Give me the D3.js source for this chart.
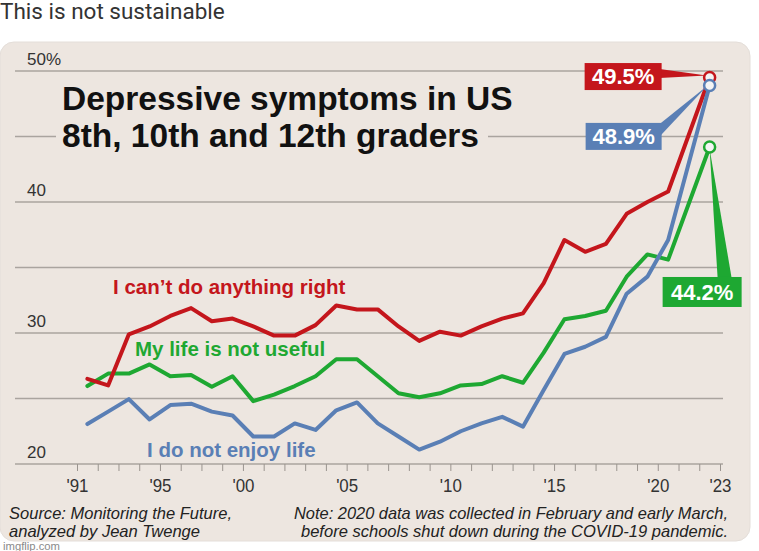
<!DOCTYPE html>
<html><head><meta charset="utf-8">
<script src="https://cdn.jsdelivr.net/npm/d3@7"></script>
<style>
html,body{margin:0;padding:0;background:#fff;}
svg{display:block;}
</style></head><body>
<svg id="c" width="759" height="551"></svg>
<script>
// survey slots (one per plotted point on the original's category axis)
const years = [1991,1992,1993,1994,1995,1996,1997,1998,1999,2000,2001,2002,2003,2004,2005,2006,2007,2008,2009,2010,2011,2012,2013,2014,2015,2016,2017,2018,2019,2021,2023];
const cantDoRight = [26.5,26.0,29.9,30.5,31.3,31.9,30.9,31.1,30.5,29.8,29.8,30.6,32.1,31.8,31.8,30.5,29.4,30.1,29.8,30.5,31.1,31.5,33.8,37.1,36.2,36.8,39.1,40.0,40.8,null,49.5];
const lifeNotUseful = [25.95,26.9,26.9,27.6,26.7,26.8,25.9,26.7,24.8,25.3,25.95,26.7,28.0,28.0,26.7,25.4,25.1,25.4,26.0,26.1,26.7,26.2,28.5,31.05,31.3,31.7,34.3,36.0,35.6,null,44.2];
const notEnjoyLife = [23.05,24.0,24.95,23.4,24.5,24.6,24.0,23.7,22.1,22.1,23.1,22.6,24.1,24.7,23.1,22.1,21.1,21.7,22.5,23.1,23.6,22.85,25.65,28.4,28.95,29.7,33.0,34.3,37.1,null,48.9];
const seriesNames = ["I can\u2019t do anything right","My life is not useful","I do not enjoy life"];
const endLabels = ["49.5%","44.2%","48.9%"];
const yTicks = [20,25,30,35,40,45,50];
const yTickLabels = ["20","","30","","40","","50%"];
const xTickLabels = ["'91","'95","'00","'05","'10","'15","'20","'23"];
const xTickSlots = [0,4,8,13,18,23,28,31];
const titleLines = ["Depressive symptoms in US","8th, 10th and 12th graders"];
const sourceLines = ["Source: Monitoring the Future,","analyzed by Jean Twenge"];
const noteLines = ["Note: 2020 data was collected in February and early March,","before schools shut down during the COVID-19 pandemic."];

const RED="#c4161c", GREEN="#1ea832", BLUE="#5a7fb5", CARD="#ede6e0";
const svg = d3.select("#c");
const sans = "'Liberation Sans',Arial,Helvetica,sans-serif";

// post text
svg.append("text").attr("x",0).attr("y",19).attr("font-family","Roboto,'Noto Sans',sans-serif")
  .attr("font-size",22.5).attr("fill","#333").text("This is not sustainable");

// card
svg.append("rect").attr("x",0).attr("y",42).attr("width",750).attr("height",499).attr("rx",14)
  .attr("fill",CARD).attr("stroke","#e4ded9");

const x = d3.scaleLinear().domain([0, years.length]).range([77, 720]);
const y = d3.scaleLinear().domain([20, 50]).range([464, 71]);

// gridlines
svg.append("g").selectAll("line").data(yTicks).join("line")
  .attr("x1",15).attr("x2",723).attr("y1",d=>y(d)).attr("y2",d=>y(d))
  .attr("stroke","#aaa49f").attr("stroke-width",1.3);
svg.append("g").selectAll("text").data(yTicks).join("text")
  .attr("x",27).attr("y",d=>y(d)-6).attr("font-family",sans).attr("font-size",17).attr("fill","#333")
  .text((d,i)=>yTickLabels[i]);

// x axis
const ax = svg.append("g").attr("transform",`translate(0,${y(20)})`)
  .call(d3.axisBottom(x).tickValues(d3.range(0, years.length+1)).tickSize(7).tickPadding(8)
    .tickFormat(i=>{const k=xTickSlots.indexOf(i); return k>=0?xTickLabels[k]:"";}));
ax.select(".domain").remove();
ax.selectAll(".tick line").attr("stroke","#9a948f").attr("stroke-width",1);
ax.selectAll(".tick text").attr("font-family",sans).attr("font-size",19).attr("fill","#333")
  .each(function(){ if (this.textContent) d3.select(this).attr("textLength",22).attr("lengthAdjust","spacingAndGlyphs"); });

// title
svg.append("rect").attr("x",56).attr("y",120).attr("width",432).attr("height",32).attr("fill",CARD);
svg.append("g").selectAll("text").data(titleLines).join("text")
  .attr("x",62).attr("y",(d,i)=>110+i*37).attr("font-family",sans).attr("font-weight","bold")
  .attr("font-size",33.5).attr("fill","#111").text(d=>d);

// series labels
const labelPos = [[113,294],[135,356],[147,457]];
const colors = [RED, GREEN, BLUE];
svg.append("g").selectAll("text").data(seriesNames).join("text")
  .attr("x",(d,i)=>labelPos[i][0]).attr("y",(d,i)=>labelPos[i][1])
  .attr("font-family",sans).attr("font-weight","bold").attr("font-size",20.5)
  .attr("fill",(d,i)=>colors[i]).text(d=>d);

// lines
const series = [cantDoRight, lifeNotUseful, notEnjoyLife];
const pts = series.map(s => s.map((v,i)=>({i,v})).filter(d=>d.v!=null));
const line = d3.line().x(d=>x(d.i+0.5)).y(d=>y(d.v));
[1,0,2].forEach(k=>{
  svg.append("path").datum(pts[k]).attr("d",line).attr("fill","none")
    .attr("stroke",colors[k]).attr("stroke-width",4).attr("stroke-linejoin","round").attr("stroke-linecap","round");
});

// end labels
const last = years.length-1;
const ex = x(last+0.5);
function box(k, bx, by, bw, bh, wedge, fs){
  svg.append("polygon").attr("points",wedge.map(p=>p.join(",")).join(" ")).attr("fill",colors[k]);
  svg.append("rect").attr("x",bx).attr("y",by).attr("width",bw).attr("height",bh).attr("fill",colors[k]);
  svg.append("text").attr("x",bx+bw/2).attr("y",by+bh/2+fs*0.36).attr("text-anchor","middle")
    .attr("font-family",sans).attr("font-weight","bold").attr("font-size",fs).attr("fill","#fff")
    .text(endLabels[k]);
}
const eyR = y(cantDoRight[last]), eyG = y(lifeNotUseful[last]), eyB = y(notEnjoyLife[last]);
box(0, ex-125, eyR-14.5, 77, 27, [[ex-50,eyR-8.5],[ex-50,eyR+0.5],[ex-3,eyR-2]], 22);
box(2, ex-124, eyB+37.5, 76, 27, [[ex-50,eyB+38.5],[ex-50,eyB+51],[ex-2,eyB]], 22);
box(1, ex-47, eyG+130, 79, 30, [[ex+8,eyG+131],[ex+22,eyG+131],[ex,eyG+2]], 22);

// end circles
[0,2,1].forEach(k=>{
  svg.append("circle").attr("cx",ex).attr("cy",y(series[k][last])).attr("r",5.5)
    .attr("fill","#f4f4f4").attr("stroke",colors[k]).attr("stroke-width",2.5);
});

// footer (condensed italic, as in the original)
const srcW = [223, 191], noteW = [434, 427];
svg.append("g").selectAll("text").data(sourceLines).join("text")
  .attr("x",9).attr("y",(d,i)=>519+i*18).attr("font-family",sans).attr("font-style","italic")
  .attr("font-size",17).attr("fill","#222").attr("textLength",(d,i)=>srcW[i]).attr("lengthAdjust","spacingAndGlyphs").text(d=>d);
svg.append("g").selectAll("text").data(noteLines).join("text")
  .attr("x",(d,i)=>728-noteW[i]).attr("y",(d,i)=>519+i*18).attr("font-family",sans).attr("font-style","italic")
  .attr("font-size",17).attr("fill","#222").attr("textLength",(d,i)=>noteW[i]).attr("lengthAdjust","spacingAndGlyphs").text(d=>d);
svg.append("text").attr("x",3).attr("y",550).attr("font-family",sans).attr("font-size",11.5)
  .attr("fill","#8a8a8a").attr("textLength",57).attr("lengthAdjust","spacingAndGlyphs").text("imgflip.com");
</script>
</body></html>
